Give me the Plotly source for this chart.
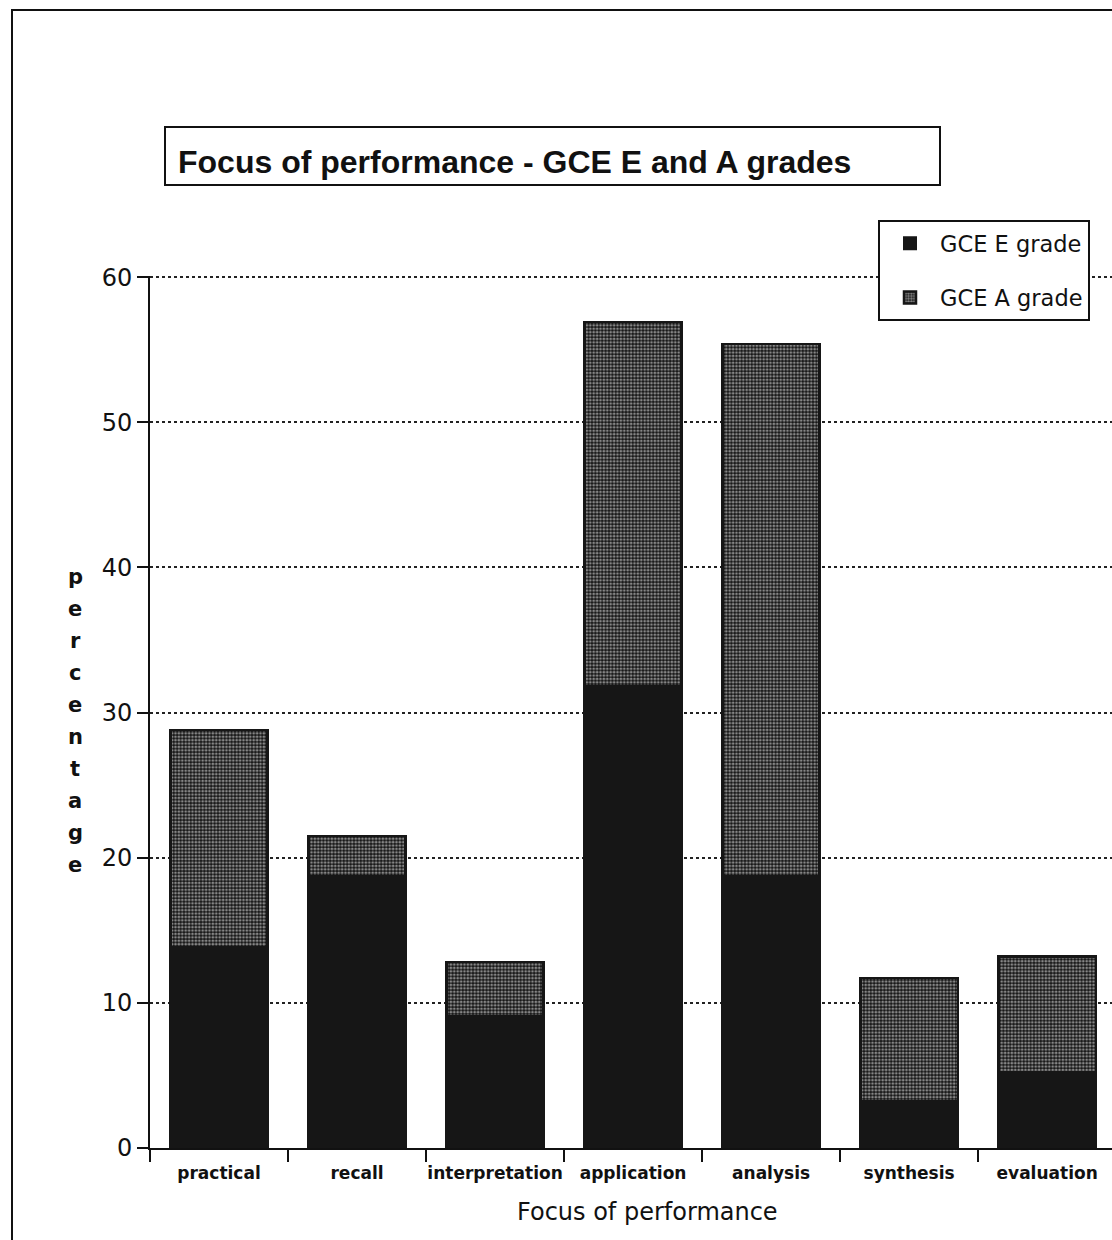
import plotly.graph_objects as go

# Focus of performance categories and stacked percentages
categories = ["practical", "recall", "interpretation", "application",
              "analysis", "synthesis", "evaluation"]
e_grade = [13.8, 18.7, 9.1, 31.8, 18.7, 3.2, 5.2]
a_grade = [15.0, 2.8, 3.7, 25.1, 36.7, 8.5, 8.0]
y_ticks = [0, 10, 20, 30, 40, 50, 60]

W, H = 1112, 1240
L, T, B = 150, 276, 92
plot_w = W - L
plot_h = H - T - B


def px(xp):
    return (xp - L) / plot_w


def py(yp):
    return (H - B - yp) / plot_h


ink = "#161616"
fig = go.Figure()
fig.add_trace(go.Bar(
    x=categories, y=e_grade, name="GCE E grade", legendgroup="e",
    marker=dict(color=ink, line=dict(color=ink, width=2)),
))
fig.add_trace(go.Bar(
    x=categories, y=a_grade, name="GCE A grade", legendgroup="a",
    marker=dict(color=ink, line=dict(color=ink, width=2.5),
                pattern=dict(shape=".", fgcolor="#f6f6f6", bgcolor=ink,
                             size=3.4, solidity=0.5)),
))

fig.update_layout(
    width=W, height=H,
    margin=dict(l=L, r=0, t=T, b=B, autoexpand=False),
    paper_bgcolor="white", plot_bgcolor="white",
    barmode="stack", bargap=0.295,
    font=dict(family="DejaVu Sans", color="#111"),
    showlegend=True,
    legend=dict(
        x=px(878), y=py(220), xanchor="left", yanchor="top",
        bordercolor="#111", borderwidth=2, bgcolor="white",
        font=dict(size=22.5, family="DejaVu Sans"),
        traceorder="grouped", tracegroupgap=22, itemwidth=50,
    ),
)

fig.update_xaxes(
    range=[-0.5, 6.47], type="category", automargin=False,
    showline=True, linecolor="#111", linewidth=2,
    ticks="outside", tickson="boundaries", ticklen=12, tickwidth=2,
    tickcolor="#111", tickangle=0, ticklabelstandoff=9,
    tickfont=dict(size=17, family="DejaVu Sans", color="#111",
                  weight="bold"),
    showgrid=False,
)
fig.update_yaxes(
    range=[0, 60.08], tickvals=y_ticks, automargin=False,
    showline=True, linecolor="#111", linewidth=2,
    ticks="outside", ticklen=11, tickwidth=2, tickcolor="#111",
    tickfont=dict(size=24, family="DejaVu Sans", color="#111"),
    showgrid=True, gridcolor="#222", gridwidth=1.5, griddash="dot",
    zeroline=False,
)

# Horizontal axis caption
fig.add_annotation(
    text="Focus of performance", xref="paper", yref="paper",
    x=px(647), y=py(1212), xanchor="center", yanchor="middle",
    showarrow=False, font=dict(size=24, family="DejaVu Sans", color="#111"),
)

# Outer frame
fig.add_shape(type="rect", xref="paper", yref="paper",
              x0=px(12), x1=px(1125), y0=py(10), y1=py(1255),
              line=dict(color="#111", width=2), fillcolor="rgba(0,0,0,0)",
              layer="below")

# Title box
fig.add_shape(type="rect", xref="paper", yref="paper",
              x0=px(165), x1=px(940), y0=py(127), y1=py(185),
              line=dict(color="#111", width=2), fillcolor="white")
fig.add_annotation(
    text="<b>Focus of performance - GCE E and A grades</b>",
    xref="paper", yref="paper", x=px(176), y=py(162),
    xanchor="left", yanchor="middle", showarrow=False,
    font=dict(size=32, family="Liberation Sans", color="#111"),
)

# Vertical axis caption, one letter per row
caption = "percentage"
for i, ch in enumerate(caption):
    fig.add_annotation(
        text=f"<b>{ch}</b>", xref="paper", yref="paper",
        x=px(75), y=py(577 + i * 32), xanchor="center", yanchor="middle",
        showarrow=False, font=dict(size=21, family="DejaVu Sans", color="#111"),
    )

fig.write_html("out.html")
